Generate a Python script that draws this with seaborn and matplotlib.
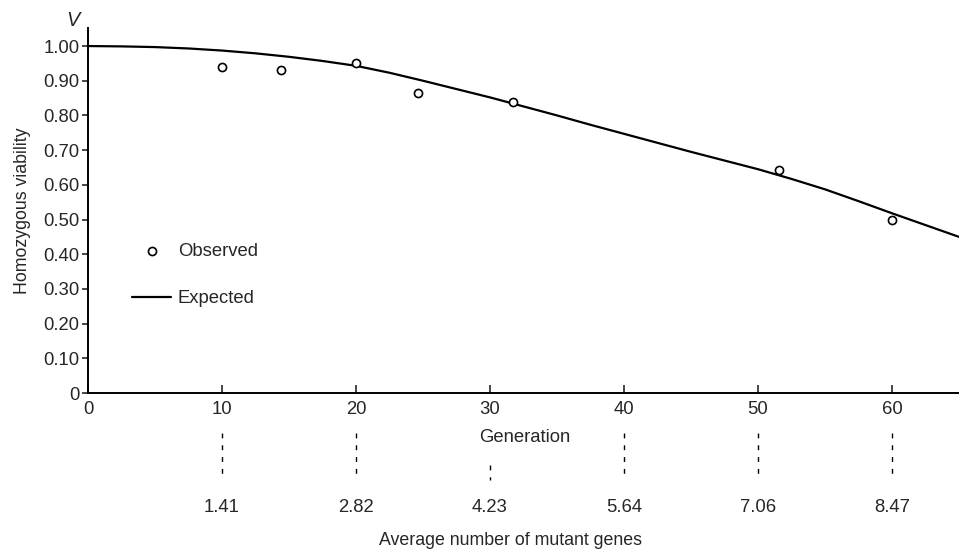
import seaborn as sns
import matplotlib.pyplot as plt
import pandas as pd

# Observed homozygous viability by generation
obs_gen = [10, 14.4, 20, 24.6, 31.7, 51.6, 60]
obs_v = [0.94, 0.93, 0.95, 0.865, 0.84, 0.643, 0.50]

# Expected curve
exp_gen = [0, 2.5, 5, 7.5, 10, 12.5, 15, 17.5, 20, 22.5, 25, 27.5, 30, 32.5,
           35, 37.5, 40, 42.5, 45, 47.5, 50, 52.5, 55, 57.5, 60, 62.5, 65]
exp_v = [1.000, 0.999, 0.997, 0.993, 0.987, 0.979, 0.969, 0.957, 0.943, 0.923,
         0.900, 0.876, 0.852, 0.826, 0.800, 0.773, 0.747, 0.721, 0.695, 0.670,
         0.645, 0.617, 0.587, 0.553, 0.518, 0.484, 0.450]

# Second scale: average number of mutant genes
gene_gen = [10, 20, 30, 40, 50, 60]
gene_labels = ['1.41', '2.82', '4.23', '5.64', '7.06', '8.47']

y_ticks = [0, 0.1, 0.2, 0.3, 0.4, 0.5, 0.6, 0.7, 0.8, 0.9, 1.0]
y_ticklabels = ['0', '0.10', '0.20', '0.30', '0.40', '0.50', '0.60', '0.70', '0.80', '0.90', '1.00']
x_ticks = [0, 10, 20, 30, 40, 50, 60]

obs = pd.DataFrame({'gen': obs_gen, 'v': obs_v})
exp = pd.DataFrame({'gen': exp_gen, 'v': exp_v})

sns.set_style('white')
plt.rcParams['font.family'] = ['Liberation Sans', 'DejaVu Sans']
fs = 13.3

fig = plt.figure(figsize=(9.59, 5.49), dpi=100)
ax = fig.add_axes([88 / 959, 156 / 549, 871 / 959, 365 / 549])

sns.lineplot(x='gen', y='v', data=exp, color='black', linewidth=1.6, ax=ax,
             label='Expected', sort=False)
sns.scatterplot(x='gen', y='v', data=obs, marker='o', s=34, facecolor='white',
                edgecolor='black', linewidth=1.2, ax=ax, label='Observed', zorder=3)

ax.set_xlim(0, 65)
ax.set_ylim(0, 1.052)
ax.set_xticks(x_ticks)
ax.set_yticks(y_ticks)
ax.set_yticklabels(y_ticklabels)
ax.set_xlabel('')
ax.set_ylabel('Homozygous viability', fontsize=fs - 0.5, labelpad=9)
ax.tick_params(axis='y', direction='out', length=4.5, width=1.2, pad=1.5, labelsize=fs, left=True)
ax.tick_params(axis='x', direction='in', length=6, width=1.2, pad=6, labelsize=fs, bottom=True)

for side in ['top', 'right']:
    ax.spines[side].set_visible(False)
for side in ['left', 'bottom']:
    ax.spines[side].set_linewidth(1.4)
    ax.spines[side].set_color('black')

# V label on top of the axis
ax.text(-1.1, 1.075, 'V', fontsize=fs + 1, style='italic', ha='center', va='center', clip_on=False)

# Legend
handles, labels = ax.get_legend_handles_labels()
order = [labels.index('Observed'), labels.index('Expected')]
ax.legend([handles[i] for i in order], [labels[i] for i in order],
          loc='center left', bbox_to_anchor=(0.051, 0.323), frameon=False,
          fontsize=fs, labelspacing=1.65, handlelength=2.1, handletextpad=0.35,
          borderpad=0, borderaxespad=0)

# Generation label and second scale below
ax.text(32.6, -0.127, 'Generation', fontsize=fs, ha='center', va='center', clip_on=False)
for g, lab in zip(gene_gen, gene_labels):
    top = -0.207 if g == 30 else -0.115
    ax.plot([g, g], [top, -0.251], color='black', linewidth=1.0,
            linestyle=(0, (3.5, 5)), clip_on=False)
    ax.text(g, -0.331, lab, fontsize=fs, ha='center', va='center', clip_on=False)
ax.text(31.5, -0.425, 'Average number of mutant genes', fontsize=fs - 0.5, ha='center',
        va='center', clip_on=False)

fig.savefig('out.png', dpi=100)
